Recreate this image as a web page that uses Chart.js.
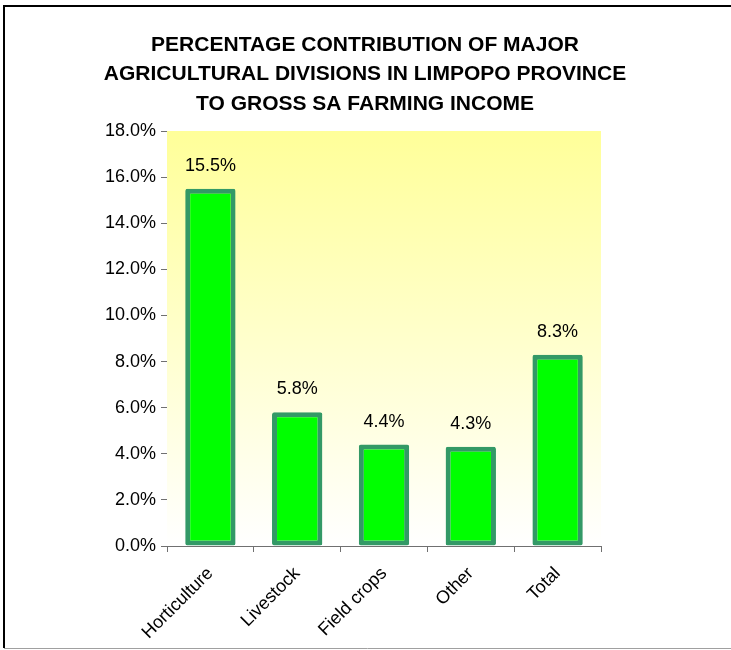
<!DOCTYPE html>
<html>
<head>
<meta charset="utf-8">
<script src="https://cdn.jsdelivr.net/npm/chart.js@4"></script>
<style>
  body { margin: 0; background: #fff; }
  #wrap { width: 731px; height: 650px; }
</style>
</head>
<body>
<div id="wrap"><canvas id="incomeChart" width="731" height="650"></canvas></div>
<script>
var categories = ["Horticulture", "Livestock", "Field crops", "Other", "Total"];
var shares = [15.5, 5.8, 4.4, 4.3, 8.3];
var titleLines = ["PERCENTAGE CONTRIBUTION OF MAJOR", "AGRICULTURAL DIVISIONS IN LIMPOPO PROVINCE", "TO GROSS SA FARMING INCOME"];

var FONT = "'Liberation Sans', Arial, sans-serif";

// yellow fade behind the plot area, frame and title
var decor = {
  id: 'decor',
  beforeDatasetsDraw: function(chart) {
    var a = chart.chartArea, c = chart.ctx;
    var g = c.createLinearGradient(0, a.top, 0, a.bottom);
    g.addColorStop(0, '#ffff99');
    g.addColorStop(1, '#ffffff');
    c.save();
    c.fillStyle = g;
    c.fillRect(a.left, a.top, a.right - a.left, a.bottom - a.top);
    c.restore();
  },
  afterDraw: function(chart) {
    var c = chart.ctx;
    c.save();
    c.strokeStyle = '#000';
    c.lineWidth = 2;
    c.beginPath();
    c.moveTo(4, 648); c.lineTo(4, 6); c.lineTo(731, 6);
    c.stroke();
    c.strokeStyle = '#a0a0a0';
    c.lineWidth = 1;
    c.beginPath();
    c.moveTo(4, 648.5); c.lineTo(731, 648.5);
    c.stroke();
    c.fillStyle = '#000';
    c.font = 'bold 21px ' + FONT;
    c.textAlign = 'center';
    c.textBaseline = 'middle';
    titleLines.forEach(function(t, i) { c.fillText(t, 365, 45 + i * 29.5); });
    // value labels over the bars
    c.font = '18px ' + FONT;
    c.textBaseline = 'bottom';
    chart.getDatasetMeta(0).data.forEach(function(bar, i) {
      c.fillText(shares[i].toFixed(1) + '%', bar.x, bar.y - 14);
    });
    c.restore();
  }
};

var ctx = document.getElementById('incomeChart').getContext('2d');
var chart = new Chart(ctx, {
  type: 'bar',
  data: {
    labels: categories,
    datasets: [{
      data: shares,
      backgroundColor: '#00ff00',
      borderColor: '#339966',
      borderWidth: 5,
      borderSkipped: false,
      borderRadius: 2,
      categoryPercentage: 1,
      barPercentage: 0.58
    }]
  },
  options: {
    responsive: false,
    animation: false,
    layout: { padding: { top: 131, right: 130, left: 0, bottom: 0 } },
    plugins: {
      legend: { display: false },
      title: { display: false },
      tooltip: { enabled: false }
    },
    scales: {
      x: {
        afterFit: function(s) { s.height = 104; },
        grid: { drawOnChartArea: false, tickLength: 6, color: '#707070' },
        border: { color: '#707070', width: 1 },
        ticks: { color: '#000', font: { family: FONT, size: 18 }, maxRotation: 45, minRotation: 45, padding: 11 }
      },
      y: {
        min: 0,
        max: 18,
        afterFit: function(s) { s.width = 167; },
        grid: { drawOnChartArea: false, tickLength: 6, color: '#707070' },
        border: { color: '#707070', width: 1 },
        ticks: {
          stepSize: 2,
          color: '#000',
          font: { family: FONT, size: 18 },
          padding: 5,
          callback: function(v) { return v.toFixed(1) + '%'; }
        }
      }
    }
  },
  plugins: [decor]
});
</script>
</body>
</html>
